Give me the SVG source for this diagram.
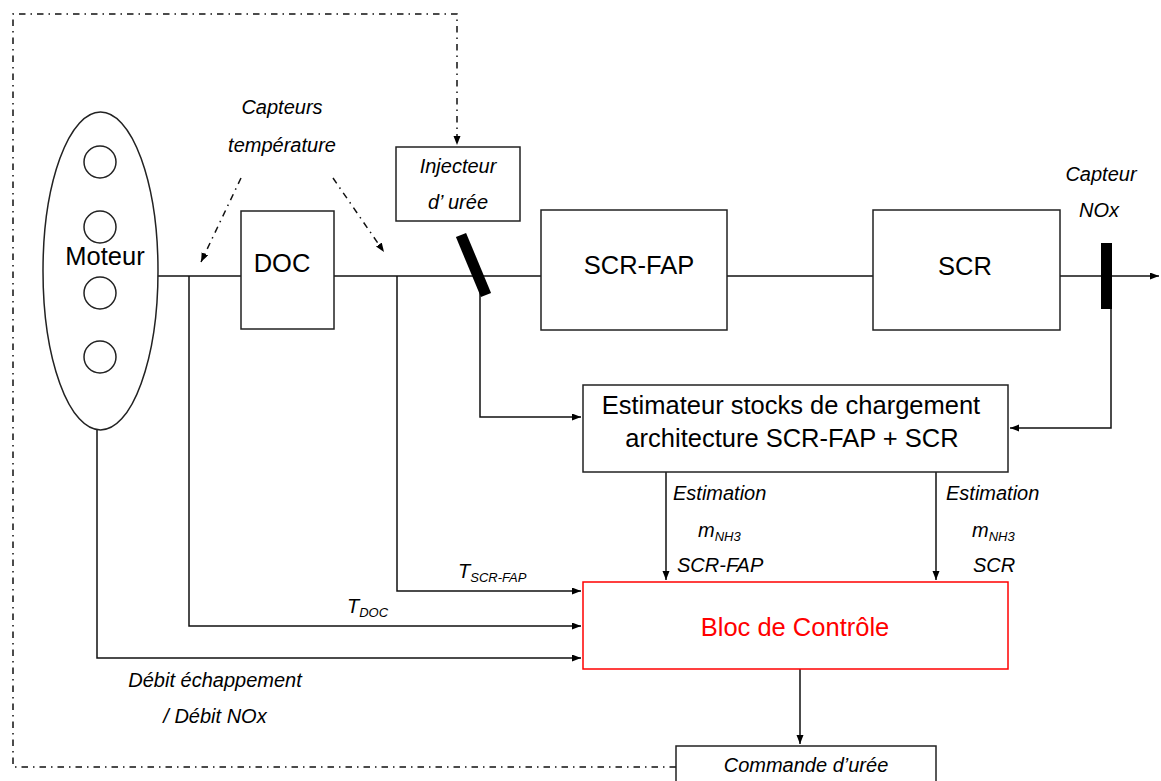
<svg xmlns="http://www.w3.org/2000/svg" width="1161" height="781" viewBox="0 0 1161 781">
<defs>
<marker id="arr" markerUnits="userSpaceOnUse" markerWidth="10" markerHeight="8" refX="9" refY="3.5" orient="auto">
<path d="M0,0 L9,3.5 L0,7 z" fill="#000"/>
</marker>
<style>
.ln{fill:none;stroke:#111;stroke-width:1.5}
.dd{fill:none;stroke:#111;stroke-width:1.5;stroke-dasharray:6.5 5 1.5 5}
.box{fill:#fff;stroke:#222;stroke-width:1.5}
.big{font-family:"Liberation Sans",Arial,sans-serif;font-size:25.5px;fill:#000}
.it{font-family:"Liberation Sans",Arial,sans-serif;font-size:20px;font-style:italic;fill:#000}
.sub{font-family:"Liberation Sans",Arial,sans-serif;font-size:13px;font-style:italic;fill:#000}
</style>
</defs>
<rect width="1161" height="781" fill="#fff"/>
<g id="connectors">
<line class="ln" x1="157" y1="276" x2="1159" y2="276" marker-end="url(#arr)"/>
<polyline class="ln" points="189,276 189,626 581,626" marker-end="url(#arr)"/>
<polyline class="ln" points="397,276 397,591 581,591" marker-end="url(#arr)"/>
<polyline class="ln" points="97,430 97,658 581,658" marker-end="url(#arr)"/>
<polyline class="ln" points="480,290 480,417 581,417" marker-end="url(#arr)"/>
<polyline class="ln" points="1111,305 1111,428 1010,428" marker-end="url(#arr)"/>
<line class="ln" x1="666" y1="472" x2="666" y2="580" marker-end="url(#arr)"/>
<line class="ln" x1="936" y1="472" x2="936" y2="580" marker-end="url(#arr)"/>
<line class="ln" x1="800" y1="669" x2="800" y2="744" marker-end="url(#arr)"/>
<polyline class="dd" points="676,767 13,767 13,14 457,14 457,145" marker-end="url(#arr)"/>
<line class="dd" x1="241" y1="178" x2="201" y2="262" marker-end="url(#arr)"/>
<line class="dd" x1="333" y1="178" x2="384" y2="252" marker-end="url(#arr)"/>
</g>
<g id="moteur">
<ellipse cx="100.5" cy="271" rx="57.5" ry="159" class="box"/>
<circle cx="100" cy="162" r="16" class="box"/>
<circle cx="100" cy="227" r="16" class="box"/>
<circle cx="100" cy="293" r="16" class="box"/>
<circle cx="100" cy="357" r="16" class="box"/>
<text x="105" y="265" text-anchor="middle" class="big">Moteur</text>
</g>
<g id="capteurs-temp">
<text x="282" y="114" text-anchor="middle" class="it">Capteurs</text>
<text x="282" y="152" text-anchor="middle" class="it">température</text>
</g>
<g id="doc">
<rect x="241" y="211" width="93" height="118" class="box"/>
<text x="282" y="272" text-anchor="middle" class="big">DOC</text>
</g>
<g id="injecteur">
<rect x="396" y="147" width="124" height="74" class="box"/>
<text x="458" y="173" text-anchor="middle" class="it">Injecteur</text>
<text x="458" y="209" text-anchor="middle" class="it">d’ urée</text>
<line x1="461" y1="235" x2="486" y2="295" stroke="#000" stroke-width="11"/>
</g>
<g id="scr-fap">
<rect x="541" y="210" width="186" height="120" class="box"/>
<text x="639" y="274" text-anchor="middle" class="big">SCR-FAP</text>
</g>
<g id="scr">
<rect x="873" y="210" width="187" height="120" class="box"/>
<text x="965" y="275" text-anchor="middle" class="big">SCR</text>
</g>
<g id="capteur-nox">
<text x="1101" y="181" text-anchor="middle" class="it">Capteur</text>
<text x="1099" y="217" text-anchor="middle" class="it">NOx</text>
<rect x="1101" y="243" width="11" height="66" fill="#000"/>
</g>
<g id="estimateur">
<rect x="583" y="385" width="425" height="87" class="box"/>
<text x="791" y="414" text-anchor="middle" class="big">Estimateur stocks de chargement</text>
<text x="792" y="447" text-anchor="middle" class="big">architecture SCR-FAP + SCR</text>
</g>
<g id="labels">
<text x="673" y="500" class="it">Estimation</text>
<text x="698" y="537" class="it">m<tspan class="sub" dy="4">NH3</tspan></text>
<text x="677" y="572" class="it">SCR-FAP</text>
<text x="946" y="500" class="it">Estimation</text>
<text x="972" y="537" class="it">m<tspan class="sub" dy="4">NH3</tspan></text>
<text x="973" y="572" class="it">SCR</text>
<text x="458" y="578" class="it">T<tspan class="sub" dy="4">SCR-FAP</tspan></text>
<text x="347" y="613" class="it">T<tspan class="sub" dy="4">DOC</tspan></text>
<text x="215" y="687" text-anchor="middle" class="it">Débit échappement</text>
<text x="215" y="723" text-anchor="middle" class="it">/ Débit NOx</text>
</g>
<g id="bloc">
<rect x="583" y="582" width="425" height="87" fill="#fff" stroke="#f00" stroke-width="1.5"/>
<text x="795" y="636" text-anchor="middle" class="big" style="fill:#f00">Bloc de Contrôle</text>
</g>
<g id="commande">
<rect x="676" y="746" width="260" height="60" class="box"/>
<text x="806" y="772" text-anchor="middle" class="it">Commande d’urée</text>
</g>
</svg>
